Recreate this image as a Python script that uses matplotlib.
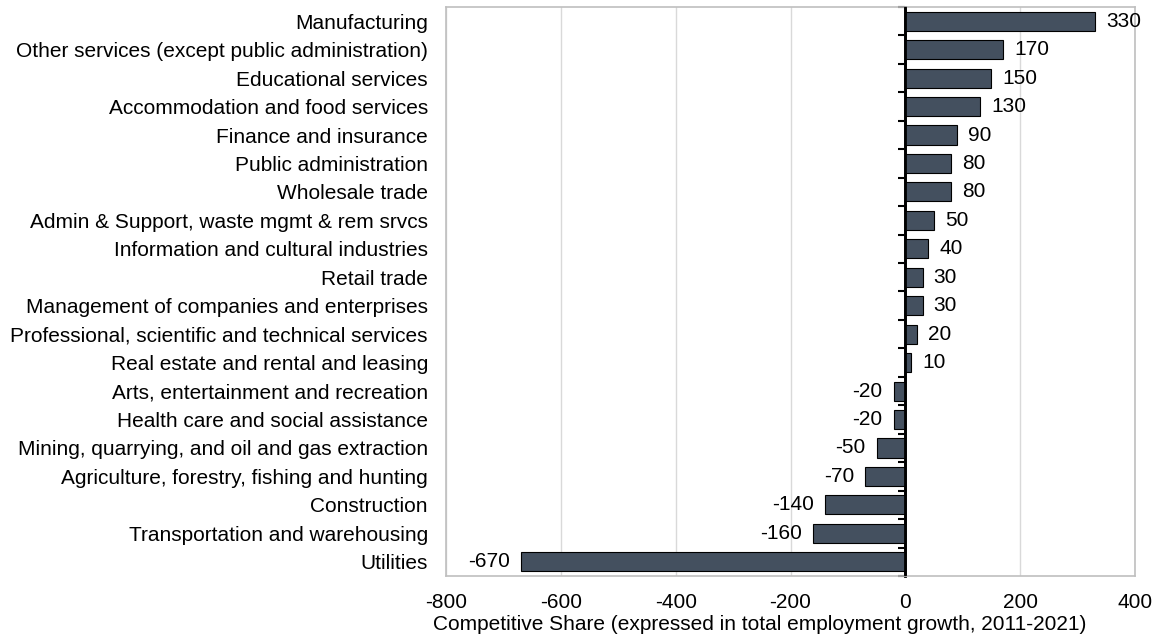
import matplotlib.pyplot as plt
import numpy as np

industries = [
    'Manufacturing',
    'Other services (except public administration)',
    'Educational services',
    'Accommodation and food services',
    'Finance and insurance',
    'Public administration',
    'Wholesale trade',
    'Admin & Support, waste mgmt & rem srvcs',
    'Information and cultural industries',
    'Retail trade',
    'Management of companies and enterprises',
    'Professional, scientific and technical services',
    'Real estate and rental and leasing',
    'Arts, entertainment and recreation',
    'Health care and social assistance',
    'Mining, quarrying, and oil and gas extraction',
    'Agriculture, forestry, fishing and hunting',
    'Construction',
    'Transportation and warehousing',
    'Utilities',
]
competitive_share = [330, 170, 150, 130, 90, 80, 80, 50, 40, 30, 30, 20, 10,
                     -20, -20, -50, -70, -140, -160, -670]
x_ticks = [-800, -600, -400, -200, 0, 200, 400]

plt.rcParams['font.family'] = ['Liberation Sans', 'DejaVu Sans']
plt.rcParams['font.size'] = 15

fig = plt.figure(figsize=(11.56, 6.37), dpi=100)
ax = fig.add_axes([446 / 1156, 1 - 576 / 637, 689 / 1156, 569 / 637])

y = np.arange(len(industries))
bars = ax.barh(y, competitive_share, height=0.67, color='#44505f',
               edgecolor='black', linewidth=0.8, zorder=3)
ax.bar_label(bars, labels=[str(v) for v in competitive_share], padding=8,
             fontsize=15)

ax.set_ylim(len(industries) - 0.5, -0.5)
ax.set_yticks(y)
ax.set_yticklabels(industries)
ax.tick_params(axis='y', length=0, pad=13)

ax.set_xlim(-800, 400)
ax.set_xticks(x_ticks)
ax.set_xticklabels([str(t) for t in x_ticks])
ax.tick_params(axis='x', length=0, pad=12)
ax.set_xlabel('Competitive Share (expressed in total employment growth, 2011-2021)')
ax.xaxis.set_label_coords(0.456, -0.069)

ax.grid(axis='x', color='#d9d9d9', linewidth=1, zorder=0)
for s in ax.spines.values():
    s.set_color('#bfbfbf')
    s.set_linewidth(1.2)

# zero line with category boundary ticks
ax.axvline(0, color='black', linewidth=2, zorder=4)
zero_pos = (0 - x_ticks[0]) / (x_ticks[-1] - x_ticks[0])
zax = ax.secondary_yaxis(zero_pos)
zax.set_alignment('left')
zax.set_yticks(np.arange(len(industries) + 1) - 0.5)
zax.set_yticklabels([])
zax.tick_params(axis='y', length=5, width=1.5, color='black', direction='out')
zax.spines['left'].set_color('black')
zax.spines['left'].set_linewidth(2)

fig.savefig('out.png', dpi=100)
